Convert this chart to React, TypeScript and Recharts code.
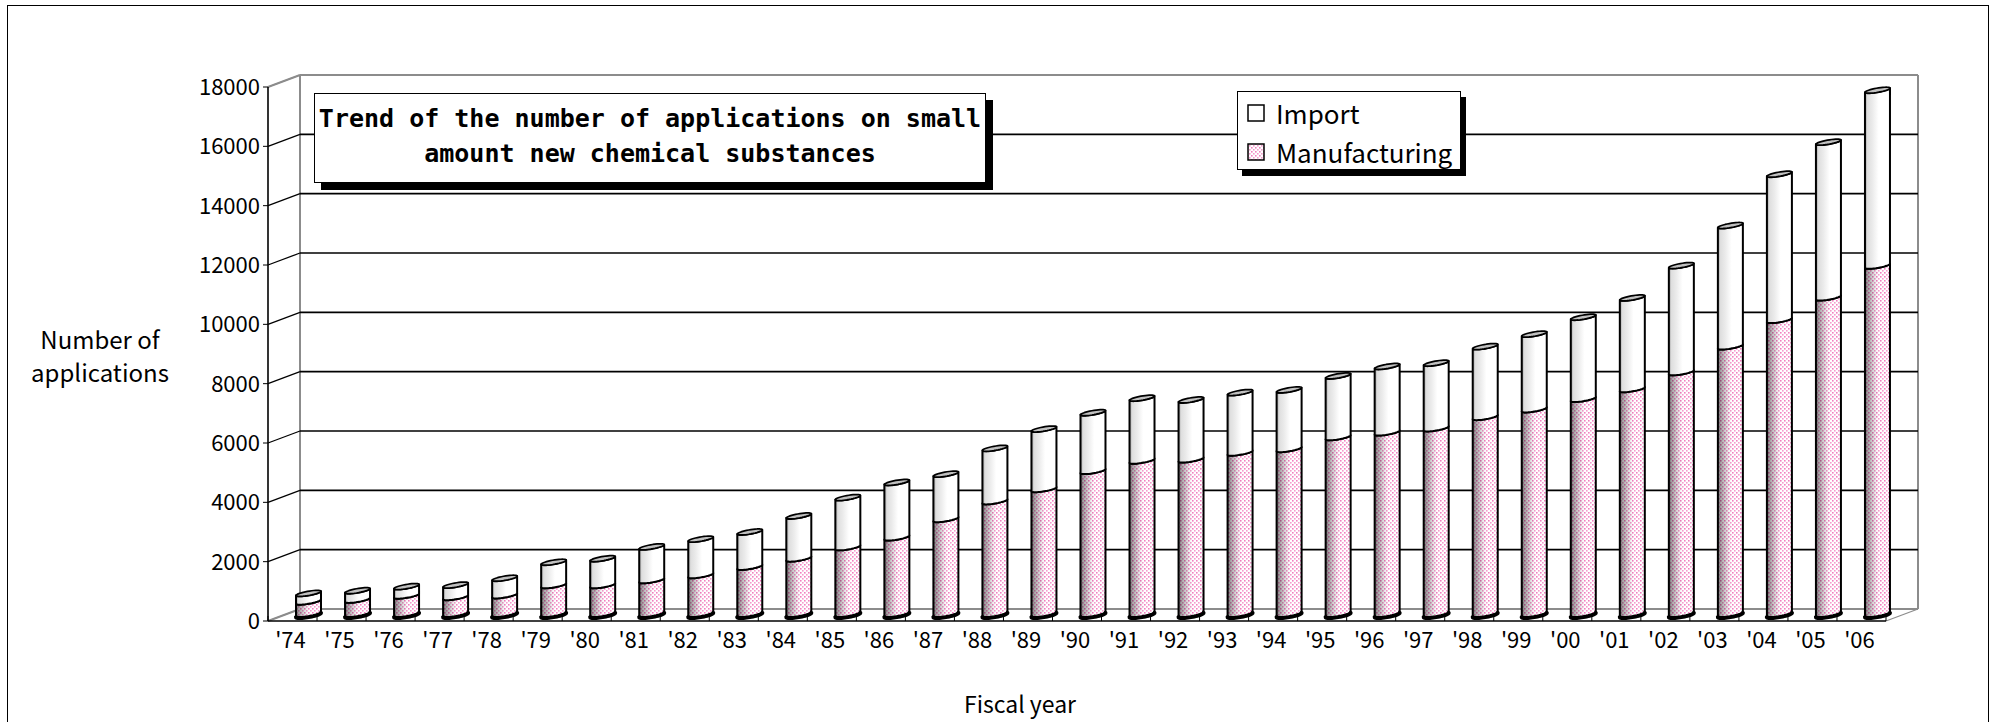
import { BarChart, Bar, XAxis, YAxis, CartesianGrid } from 'recharts'

const years = ["'74", "'75", "'76", "'77", "'78", "'79", "'80", "'81", "'82", "'83", "'84", "'85", "'86", "'87", "'88", "'89", "'90", "'91", "'92", "'93", "'94", "'95", "'96", "'97", "'98", "'99", "'00", "'01", "'02", "'03", "'04", "'05", "'06"]
const manufacturing = [450, 510, 650, 600, 660, 1000, 1000, 1170, 1340, 1620, 1900, 2280, 2610, 3230, 3830, 4240, 4850, 5200, 5240, 5470, 5590, 5990, 6150, 6290, 6670, 6930, 7280, 7610, 8180, 9050, 9940, 10700, 11770]
const imports = [280, 310, 310, 410, 580, 780, 900, 1130, 1220, 1180, 1440, 1680, 1860, 1520, 1790, 2030, 1970, 2110, 2010, 2030, 2000, 2070, 2230, 2200, 2380, 2540, 2760, 3080, 3600, 4080, 4920, 5240, 5920]
const yTicks = [0, 2000, 4000, 6000, 8000, 10000, 12000, 14000, 16000, 18000]

const data = years.map((year, i) => ({ year, manufacturing: manufacturing[i], import: imports[i] }))

const W = 2011
const H = 722
const PLOT = { left: 268, top: 87, right: 1886, bottom: 621 }
const DEPTH = { dx: 32, dy: -12 }
const SHIFT = { dx: 16, dy: -6 } // bars stand half way into the floor
const BAND = (PLOT.right - PLOT.left) / years.length
const FONT = '"Noto Sans CJK JP", "Noto Sans", sans-serif'
const WALL = '#8c8c8c'

// oblique circle, tilted like the excel cylinders
const TA = 1.0
const TB = 0.34

function pt(cx: number, cy: number, r: number, t: number) {
  return [cx + r * Math.cos(t) + TA * r * Math.sin(t), cy - TB * r * Math.sin(t)]
}

function frontArc(cx: number, cy: number, r: number) {
  const t0 = Math.PI + Math.atan(TA)
  const t1 = 2 * Math.PI + Math.atan(TA)
  const pts: number[][] = []
  for (let k = 0; k <= 24; k++) pts.push(pt(cx, cy, r, t0 + ((t1 - t0) * k) / 24))
  return pts
}

function cylinder(props: any) {
  const { x, y, width, height } = props
  const cx = x + width / 2 + SHIFT.dx
  const cyT = y + SHIFT.dy
  const cyB = y + height + SHIFT.dy
  const r = width / 2 / Math.sqrt(1 + TA * TA)
  const bottom = frontArc(cx, cyB, r)
  const top = frontArc(cx, cyT, r).reverse()
  const body =
    `M${top[top.length - 1][0]},${top[top.length - 1][1]} ` +
    bottom.map((p) => `L${p[0]},${p[1]}`).join(' ') +
    ' ' +
    top.map((p) => `L${p[0]},${p[1]}`).join(' ') +
    ' Z'
  const bottomD = 'M' + bottom.map((p) => `${p[0]},${p[1]}`).join(' L')
  const cap: number[][] = []
  for (let k = 0; k < 36; k++) cap.push(pt(cx, cyT, r, (k * 2 * Math.PI) / 36))
  const capD = 'M' + cap.map((p) => `${p[0]},${p[1]}`).join(' L') + ' Z'
  return { body, bottomD, capD }
}

function ManufacturingShape(props: any) {
  if (!props.height) return null
  const { body, bottomD } = cylinder(props)
  return (
    <g>
      <path d={body} fill="url(#pinkDots)" />
      <path d={body} fill="url(#mShade)" />
      <path d={body} fill="none" stroke="#000" strokeWidth={2} strokeLinejoin="round" />
      <path d={bottomD} fill="none" stroke="#000" strokeWidth={4} strokeLinecap="round" />
    </g>
  )
}

function ImportShape(props: any) {
  if (!props.height) return null
  const { body, capD } = cylinder(props)
  return (
    <g>
      <path d={body} fill="url(#iShade)" stroke="#000" strokeWidth={2} strokeLinejoin="round" />
      <path d={capD} fill="#c0c0c0" stroke="#000" strokeWidth={1.7} strokeLinejoin="round" />
    </g>
  )
}

function gridLine(p: any) {
  const { x1, y1, x2, y2 } = p
  const edge = Math.abs(y1 - PLOT.top) < 1 || Math.abs(y1 - PLOT.bottom) < 1
  const c = edge ? WALL : '#000'
  return (
    <g key={p.key}>
      <line x1={x1} y1={y1} x2={x1 + DEPTH.dx} y2={y1 + DEPTH.dy} stroke={c} strokeWidth={1.3} />
      <line x1={x1 + DEPTH.dx} y1={y1 + DEPTH.dy} x2={x2 + DEPTH.dx} y2={y2 + DEPTH.dy} stroke={c} strokeWidth={edge ? 2 : 1.6} />
    </g>
  )
}

function YTick(p: any) {
  const { x, y, payload } = p
  return (
    <text x={x} y={y} dy="0.36em" textAnchor="end" fontFamily={FONT} fontSize={22} fill="#000">
      {payload.value}
    </text>
  )
}

function XTick(p: any) {
  const { x, payload, index } = p
  return (
    <g>
      {index === 0 && <line x1={x - BAND / 2} x2={x - BAND / 2} y1={PLOT.bottom - 5} y2={PLOT.bottom} stroke="#000" />}
      <line x1={x + BAND / 2} x2={x + BAND / 2} y1={PLOT.bottom - 5} y2={PLOT.bottom} stroke="#000" />
      <text x={x - 2} y={PLOT.bottom + 19} dy="0.36em" textAnchor="middle" fontFamily={FONT} fontSize={22} fill="#000">
        {payload.value}
      </text>
    </g>
  )
}

function Walls() {
  const b = { l: PLOT.left + DEPTH.dx, r: PLOT.right + DEPTH.dx, t: PLOT.top + DEPTH.dy, btm: PLOT.bottom + DEPTH.dy }
  return (
    <svg width={W} height={H} style={{ position: 'absolute', left: 0, top: 0 }}>
      <g stroke={WALL} strokeWidth={2} fill="none">
        <line x1={b.l} y1={b.t} x2={b.r} y2={b.t} />
        <line x1={b.l} y1={b.t} x2={b.l} y2={b.btm} />
        <line x1={b.r} y1={b.t} x2={b.r} y2={b.btm} />
        <line x1={b.l} y1={b.btm} x2={b.r} y2={b.btm} />
        <line x1={PLOT.left} y1={PLOT.top} x2={b.l} y2={b.t} />
        <line x1={PLOT.left} y1={PLOT.bottom} x2={b.l} y2={b.btm} />
        <line x1={PLOT.right} y1={PLOT.bottom} x2={b.r} y2={b.btm} strokeWidth={1.3} />
      </g>
    </svg>
  )
}

export default function App() {
  return (
    <div style={{ position: 'absolute', left: 0, top: 0, width: W, height: H, overflow: 'hidden', background: '#fff' }}>
      <svg width={0} height={0} style={{ position: 'absolute' }}>
        <defs>
          <pattern id="pinkDots" width={4} height={4} patternUnits="userSpaceOnUse">
            <rect width={4} height={4} fill="#fff" />
            <rect x={0} y={0} width={1.6} height={1.6} fill="#f27fc0" />
            <rect x={2} y={2} width={1.6} height={1.6} fill="#f59ccd" />
          </pattern>
          <linearGradient id="mShade" x1="0" y1="0" x2="1" y2="0">
            <stop offset="0" stopColor="#000" stopOpacity={0.6} />
            <stop offset="0.1" stopColor="#000" stopOpacity={0.38} />
            <stop offset="0.28" stopColor="#000" stopOpacity={0.2} />
            <stop offset="0.45" stopColor="#000" stopOpacity={0.05} />
            <stop offset="0.55" stopColor="#000" stopOpacity={0} />
            <stop offset="1" stopColor="#000" stopOpacity={0} />
          </linearGradient>
          <linearGradient id="iShade" x1="0" y1="0" x2="1" y2="0">
            <stop offset="0" stopColor="#9a9a9a" />
            <stop offset="0.1" stopColor="#dedede" />
            <stop offset="0.3" stopColor="#ebebeb" />
            <stop offset="0.45" stopColor="#f7f7f7" />
            <stop offset="0.55" stopColor="#ffffff" />
            <stop offset="1" stopColor="#ffffff" />
          </linearGradient>
        </defs>
      </svg>

      <div style={{ position: 'absolute', left: 7, top: 5, width: 1980, height: 780, border: '1.5px solid #000' }} />

      <Walls />

      <div style={{ position: 'absolute', left: 0, top: 0 }}>
        <BarChart width={W} height={H} data={data} margin={{ top: PLOT.top, left: PLOT.left - 60, right: W - PLOT.right, bottom: H - PLOT.bottom - 30 }}>
          <CartesianGrid horizontal={gridLine} vertical={false} />
          <XAxis
            dataKey="year"
            height={30}
            interval={0}
            tickSize={0}
            tickMargin={0}
            tickLine={false}
            axisLine={{ stroke: '#000', strokeWidth: 1.6 }}
            tick={XTick}
          />
          <YAxis
            type="number"
            domain={[0, 18000]}
            ticks={yTicks}
            interval={0}
            width={60}
            tickSize={5}
            tickMargin={3}
            axisLine={{ stroke: '#000', strokeWidth: 1.6 }}
            tickLine={{ stroke: '#000' }}
            tick={YTick}
          />
          <Bar dataKey="manufacturing" stackId="a" barSize={25} shape={ManufacturingShape} isAnimationActive={false} />
          <Bar dataKey="import" stackId="a" barSize={25} shape={ImportShape} isAnimationActive={false} />
        </BarChart>
      </div>

      <div
        style={{
          position: 'absolute', left: 314, top: 93, width: 672, height: 90, border: '1.5px solid #000', background: '#fff',
          boxShadow: '7px 7px 0 #000', fontFamily: '"DejaVu Sans Mono", monospace', fontWeight: 'bold', fontSize: 25,
          lineHeight: '35px', textAlign: 'center', paddingTop: 7, boxSizing: 'border-box', color: '#000',
        }}
      >
        Trend of the number of applications on small
        <br />
        amount new chemical substances
      </div>

      <div
        style={{
          position: 'absolute', left: 1237, top: 91, width: 224, height: 79, border: '1.5px solid #000', background: '#fff',
          boxShadow: '5px 6px 0 #000', boxSizing: 'border-box', fontFamily: FONT, fontSize: 26, color: '#000',
        }}
      >
        {[
          { name: 'Import', fill: '#fff', top: 21 },
          { name: 'Manufacturing', fill: 'url(#pinkDots)', top: 60 },
        ].map((it) => (
          <div key={it.name} style={{ position: 'absolute', left: 9, top: it.top - 17, height: 34, display: 'flex', alignItems: 'center' }}>
            <svg width={18} height={18} style={{ marginRight: 11 }}>
              <rect x={1} y={1} width={16} height={16} fill={it.fill} stroke="#000" strokeWidth={1.5} />
            </svg>
            <span style={{ lineHeight: '34px' }}>{it.name}</span>
          </div>
        ))}
      </div>

      <div style={{ position: 'absolute', left: 0, top: 322, width: 200, textAlign: 'center', fontFamily: FONT, fontSize: 24, lineHeight: '33px', color: '#000' }}>
        Number of
        <br />
        applications
      </div>

      <div style={{ position: 'absolute', left: 920, top: 691, width: 200, textAlign: 'center', fontFamily: FONT, fontSize: 23, lineHeight: '24px', color: '#000' }}>
        Fiscal year
      </div>
    </div>
  )
}
